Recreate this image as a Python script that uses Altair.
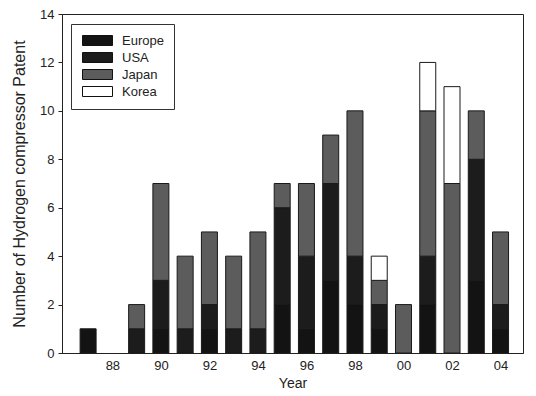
import altair as alt
import pandas as pd

years = list(range(1987, 2005))
europe = [1, 0, 0, 1, 0, 1, 0, 0, 2, 1, 3, 2, 1, 0, 2, 0, 3, 1]
usa    = [0, 0, 1, 2, 1, 1, 1, 1, 4, 3, 4, 2, 1, 0, 2, 0, 5, 1]
japan  = [0, 0, 1, 4, 3, 3, 3, 4, 1, 3, 2, 6, 1, 2, 6, 7, 2, 3]
korea  = [0, 0, 0, 0, 0, 0, 0, 0, 0, 0, 0, 0, 1, 0, 2, 4, 0, 0]
regions = ["Europe", "USA", "Japan", "Korea"]
colors = ["#131313", "#1c1c1c", "#5c5c5c", "#ffffff"]
x_ticks = list(range(1988, 2005, 2))

rows = []
for i, y in enumerate(years):
    for k, (name, vals) in enumerate(zip(regions, [europe, usa, japan, korea])):
        if vals[i] > 0:
            rows.append({"Year": y, "Region": name, "Count": vals[i], "order": k})
df = pd.DataFrame(rows)

font = "Liberation Sans"

chart = alt.Chart(df).mark_bar(size=16, stroke="#1a1a1a", strokeWidth=1).encode(
    x=alt.X("Year:Q",
            scale=alt.Scale(domain=[1986.13, 2004.72], nice=False, zero=False),
            axis=alt.Axis(values=x_ticks, labelExpr="slice(toString(datum.value), 2)",
                          title="Year", ticks=False, grid=False, labelPadding=6,
                          titlePadding=4)),
    y=alt.Y("sum(Count):Q", stack="zero",
            scale=alt.Scale(domain=[0, 14], nice=False),
            axis=alt.Axis(values=list(range(0, 15, 2)), title="Number of Hydrogen compressor Patent",
                          grid=False, tickSize=4, labelPadding=4, titlePadding=12,
                          titleFontSize=16)),
    color=alt.Color("Region:N", sort=regions,
                    scale=alt.Scale(domain=regions, range=colors),
                    legend=alt.Legend(title=None, orient="none", legendX=9, legendY=10,
                                      symbolType="M-1,-1H5V1H-1Z", symbolSize=100,
                                      symbolStrokeColor="#111111", symbolStrokeWidth=1,
                                      symbolOpacity=1,
                                      labelOffset=28, labelFontSize=13, labelFont=font,
                                      labelColor="#222222",
                                      rowPadding=2, padding=10,
                                      strokeColor="#333333", fillColor="white")),
    order=alt.Order("order:Q", sort="ascending"),
).properties(
    width=461, height=339,
    autosize=alt.AutoSizeParams(type="none"),
    padding={"left": 54, "top": 6, "right": 5, "bottom": 36},
).configure_view(
    stroke="#222222", strokeWidth=1
).configure_axis(
    labelFont=font, titleFont=font, labelFontSize=13, titleFontSize=14,
    titleFontWeight="normal", labelColor="#222222", titleColor="#222222",
    domainColor="#222222", tickColor="#222222"
)

chart.save("out.html", embed_options={"renderer": "svg", "actions": False})
